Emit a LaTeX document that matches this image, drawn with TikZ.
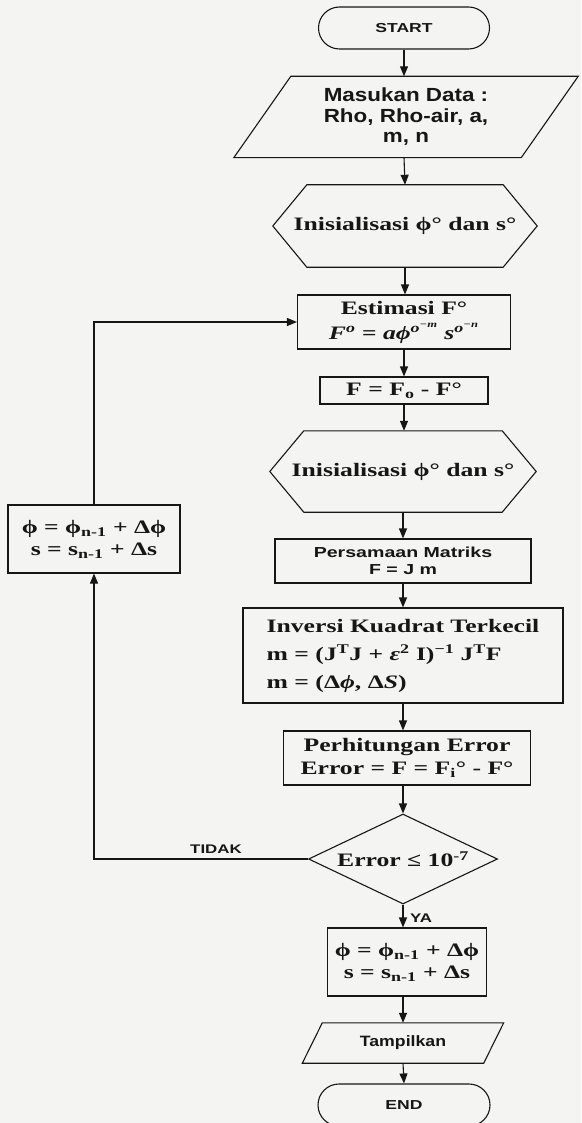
\documentclass[tikz,border=0pt]{standalone}
\usepackage{fontspec}
\setmainfont{Liberation Serif}[FakeStretch=1.35]
\newfontfamily\sfw{Liberation Sans}[FakeStretch=1.35]
\newfontfamily\sfm{Liberation Sans}[FakeStretch=1.18]
\usetikzlibrary{arrows.meta,shapes.geometric}
\definecolor{bg}{RGB}{244,244,242}
\definecolor{ink}{RGB}{22,22,22}
\tikzset{
  ln/.style={draw=ink, line width=1.1pt},
  arr/.style={draw=ink, line width=1.1pt, -{Triangle[length=10pt,width=8pt]}},
  frame/.style={inner sep=0pt, text=ink},
  boxn/.style={ln, inner sep=0pt, text=ink, align=center},
  serif/.style={font=\bfseries\fontsize{19}{#1}\selectfont},
  serif/.default=23,
  term/.style={ln, rounded corners=21pt, minimum height=42pt, inner sep=0pt, text=ink,
    font=\sfw\bfseries\fontsize{13}{15}\selectfont},
  lbl/.style={inner sep=0pt, text=ink, font=\sfw\bfseries\fontsize{12.5}{14}\selectfont}
}
\begin{document}
\begin{tikzpicture}[x=1pt,y=-1pt]
\path[use as bounding box, fill=bg] (0,0) rectangle (581,1123);
\clip (0,0) rectangle (581,1123);

% terminals and process nodes
\node[term, minimum width=171pt] (start) at (404,28) {START};

\node[frame, minimum width=344pt, minimum height=81pt, align=center,
  font=\sfm\bfseries\fontsize{19}{20.5}\selectfont] (in) at (406,117) {Masukan Data :\\Rho, Rho-air, a,\\m, n};
\draw[ln] ([xshift=57pt]in.north west) -- (in.north east) -- ([xshift=-57pt]in.south east) -- (in.south west) -- cycle;

\node[frame, serif, minimum width=264pt, minimum height=82pt] (ini1) at (405,226) {Inisialisasi ϕ° dan s°};
\draw[ln] (ini1.west) -- ([xshift=34pt]ini1.north west) -- ([xshift=-34pt]ini1.north east) -- (ini1.east)
  -- ([xshift=-34pt]ini1.south east) -- ([xshift=34pt]ini1.south west) -- cycle;

\node[boxn, serif=25, minimum width=213pt, minimum height=54pt] (est) at (404,322)
  {Estimasi F°\\{\itshape F\textsuperscript{o} = aϕ\textsuperscript{o\textsuperscript{−m}} s\textsuperscript{o\textsuperscript{−n}}}};

\node[boxn, serif, minimum width=168pt, minimum height=27pt] (fbox) at (404,390.5)
  {F = F\textsubscript{o} - F°};

\node[frame, serif, minimum width=266pt, minimum height=81pt] (ini2) at (403,471.5) {Inisialisasi ϕ° dan s°};
\draw[ln] (ini2.west) -- ([xshift=34pt]ini2.north west) -- ([xshift=-34pt]ini2.north east) -- (ini2.east)
  -- ([xshift=-34pt]ini2.south east) -- ([xshift=34pt]ini2.south west) -- cycle;

\node[boxn, minimum width=256pt, minimum height=44pt,
  font=\sfw\bfseries\fontsize{14.5}{16.5}\selectfont] (mat) at (403,561) {Persamaan Matriks\\F = J m};

\node[boxn, serif=28, align=left, minimum width=320pt, minimum height=95pt] (inv) at (403,655.5)
  {Inversi Kuadrat Terkecil\\
   m = (J\textsuperscript{T}J + {\itshape ε}\textsuperscript{2} I)\textsuperscript{−1} J\textsuperscript{T}F\\
   m = (Δ{\itshape ϕ}, Δ{\itshape S})};

\node[boxn, serif, minimum width=247pt, minimum height=54pt] (err) at (407,758)
  {Perhitungan Error\\Error = F = F\textsubscript{i}° - F°};

\node[diamond, ln, aspect=2.1, minimum width=189pt, minimum height=90pt, inner sep=0pt,
  text=ink, serif] (dec) at (403,859) {Error ≤ 10\textsuperscript{-7}};

\node[boxn, serif=22, minimum width=159pt, minimum height=68pt] (upd) at (407,962)
  {ϕ = ϕ\textsubscript{n-1} + Δϕ\\s = s\textsubscript{n-1} + Δs};

\node[frame, minimum width=201pt, minimum height=40pt,
  font=\sfm\bfseries\fontsize{15}{17}\selectfont] (out) at (403,1043) {Tampilkan};
\draw[ln] ([xshift=20pt]out.north west) -- (out.north east) -- ([xshift=-20pt]out.south east) -- (out.south west) -- cycle;

\node[term, minimum width=172pt] (end) at (404,1105) {END};

\node[boxn, serif=22, minimum width=172pt, minimum height=68pt] (back) at (94,539)
  {ϕ = ϕ\textsubscript{n-1} + Δϕ\\s = s\textsubscript{n-1} + Δs};

% main flow
\draw[arr] (start.south) -- (start.south |- in.north);
\draw[arr] (start.south |- in.south) -- (ini1.north);
\draw[arr] (ini1.south) -- (ini1.south |- est.north);
\draw[arr] (est.south) -- (fbox.north);
\draw[arr] (fbox.south) -- (fbox.south |- ini2.north);
\draw[arr] (ini2.south) -- (mat.north);
\draw[arr] (mat.south) -- (inv.north);
\draw[arr] (inv.south) -- (inv.south |- err.north);
\draw[arr] (inv.south |- err.south) -- (dec.north);
\draw[arr] (dec.south) -- (dec.south |- upd.north);
\draw[arr] (dec.south |- upd.south) -- (out.north);
\draw[arr] (out.south) -- (end.north);

% loop back
\draw[arr] (dec.west) -| (back.south);
\draw[arr] (back.north) |- (est.west);

\node[lbl] (tidak) at (216,849) {TIDAK};
\node[lbl, anchor=west] (ya) at (410,918) {YA};
\end{tikzpicture}
\end{document}
